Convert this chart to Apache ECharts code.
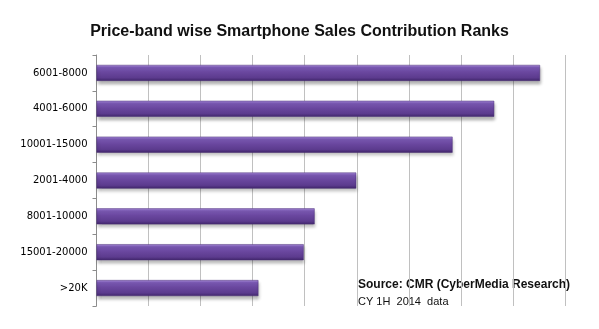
<!DOCTYPE html>
<html>
<head>
<meta charset="utf-8">
<script src="https://cdn.jsdelivr.net/npm/echarts@6/dist/echarts.min.js"></script>
<style>html,body{margin:0;padding:0;background:#fff}#c{width:599px;height:329px}</style>
</head>
<body>
<div id="c"></div>
<script>
var categories = ['6001-8000','4001-6000','10001-15000','2001-4000','8001-10000','15001-20000','>20K'];
var values = [8.52, 7.64, 6.84, 4.99, 4.19, 3.98, 3.11];
var titleText = 'Price-band wise Smartphone Sales Contribution Ranks';
var sourceText = 'Source: CMR (CyberMedia Research)';
var noteText = 'CY 1H  2014  data';

var chart = echarts.init(document.getElementById('c'), null, {renderer: 'canvas'});
chart.setOption({
  animation: false,
  backgroundColor: '#fff',
  title: {
    text: titleText, left: 'center', top: 19,
    textStyle: {fontFamily: 'Liberation Sans', fontWeight: 'bold', fontSize: 16, color: '#111'}
  },
  graphic: [
    {type: 'text', left: 358, top: 279, style: {text: sourceText, font: 'bold 12px "Liberation Sans"', fill: '#111'}},
    {type: 'text', left: 358, top: 296, style: {text: noteText, font: '11px "Liberation Sans"', fill: '#111'}}
  ],
  grid: {left: 96.5, right: 34, top: 55, bottom: 23, containLabel: false},
  xAxis: {
    type: 'value', min: 0, max: 9, interval: 1,
    axisLine: {show: false}, axisTick: {show: false}, axisLabel: {show: false},
    splitLine: {show: true, lineStyle: {color: '#c0c0c0', width: 1}}
  },
  yAxis: {
    type: 'category', data: categories, inverse: true,
    axisLine: {show: true, lineStyle: {color: '#8c8c8c', width: 1}},
    axisTick: {show: true, length: 4, lineStyle: {color: '#8c8c8c'}},
    axisLabel: {margin: 9, fontFamily: 'DejaVu Sans', fontSize: 10, color: '#000'}
  },
  series: [{
    type: 'bar', data: values, barWidth: 16,
    itemStyle: {
      color: new echarts.graphic.LinearGradient(0, 0, 0, 1, [
        {offset: 0, color: '#a88cd8'},
        {offset: 0.15, color: '#7e5cb8'},
        {offset: 0.45, color: '#6a479f'},
        {offset: 0.8, color: '#5c3b8e'},
        {offset: 1, color: '#3f2569'}
      ]),
      borderColor: '#4a2f78', borderWidth: 0.5,
      shadowColor: 'rgba(0,0,0,0.3)', shadowBlur: 3, shadowOffsetY: 3, shadowOffsetX: 1
    }
  }]
});
</script>
</body>
</html>
